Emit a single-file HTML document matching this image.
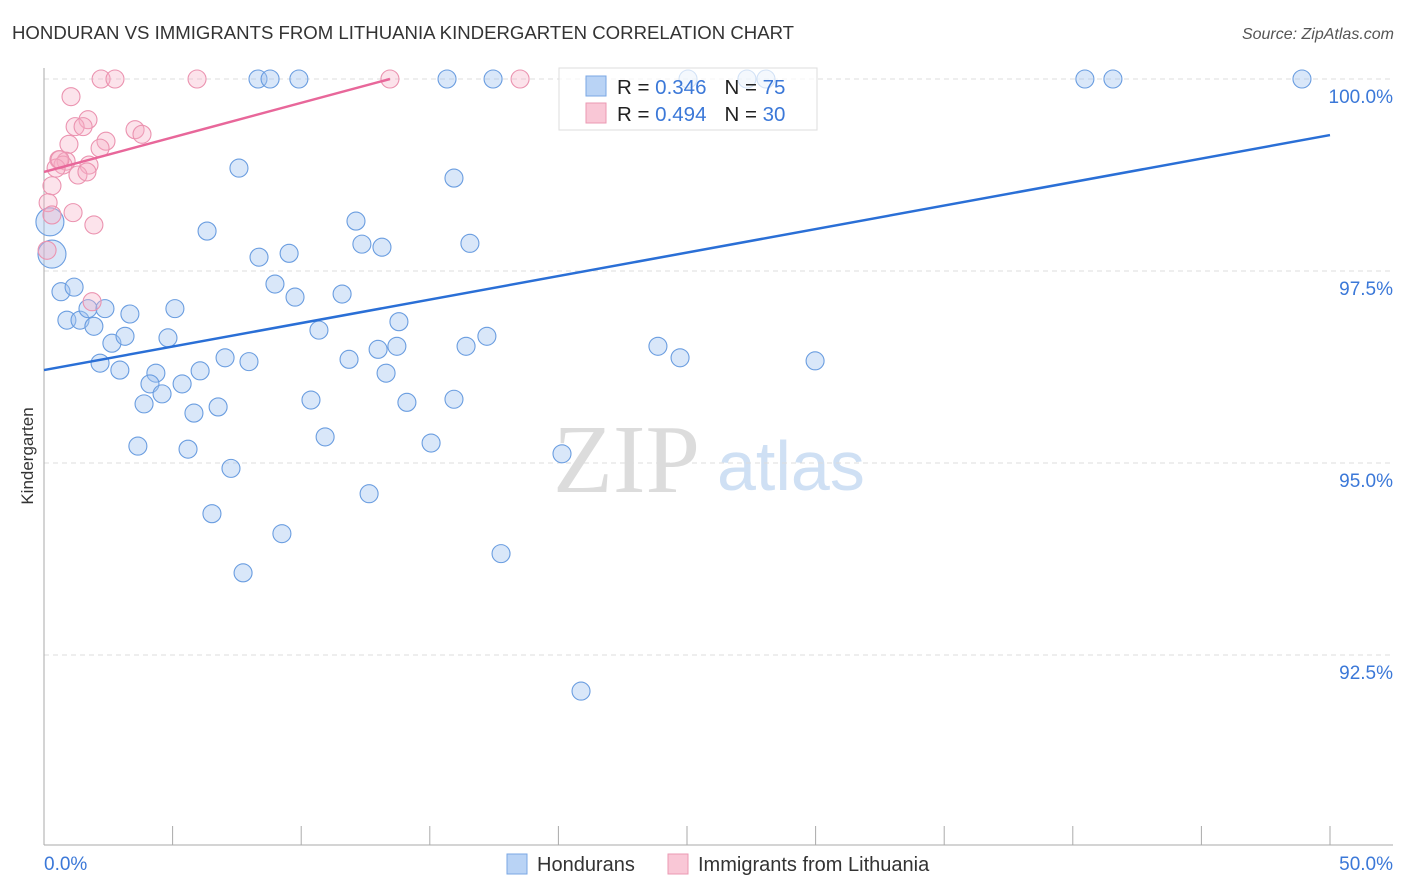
<!DOCTYPE html>
<html><head><meta charset="utf-8"><style>
body{margin:0;background:#fff;font-family:"Liberation Sans",sans-serif}
svg{display:block}
</style></head><body>
<svg id="chart" width="1406" height="892">
<text x="12" y="39" font-size="18.6" fill="#333">HONDURAN VS IMMIGRANTS FROM LITHUANIA KINDERGARTEN CORRELATION CHART</text>
<text x="1394" y="39" font-size="16" fill="#555" font-style="italic" text-anchor="end">Source: ZipAtlas.com</text>
<g>
<text x="553" y="492" font-family="Liberation Serif,serif" font-size="98" fill="#dcdcdc">ZIP</text>
<text x="717" y="490" font-size="70" fill="#cfe0f4">atlas</text>
</g>
<g id="grid"></g>
<g id="axes"></g>
<g id="pts"></g>
<g id="lines"></g>
<text transform="translate(33,456) rotate(-90)" font-size="17" fill="#333" text-anchor="middle">Kindergarten</text>
<text x="44" y="870" font-size="19" fill="#3b78d8">0.0%</text>
<text x="1393" y="870" font-size="19" fill="#3b78d8" text-anchor="end">50.0%</text>
<g>
<rect x="559" y="68" width="258" height="62" fill="rgba(255,255,255,0.7)" stroke="#ddd"/>
<rect x="586" y="76" width="20" height="20" fill="#b9d3f5" stroke="#7aa7e4"/>
<text x="617" y="94" font-size="20.5" fill="#222">R = <tspan fill="#3b78d8">0.346</tspan><tspan dx="18">N = </tspan><tspan fill="#3b78d8">75</tspan></text>
<rect x="586" y="103" width="20" height="20" fill="#f9c7d6" stroke="#eb9ab3"/>
<text x="617" y="121" font-size="20.5" fill="#222">R = <tspan fill="#3b78d8">0.494</tspan><tspan dx="18">N = </tspan><tspan fill="#3b78d8">30</tspan></text>
</g>
<g>
<rect x="507" y="854" width="20" height="20" fill="#b9d3f5" stroke="#7aa7e4"/>
<text x="537" y="871" font-size="20" fill="#333">Hondurans</text>
<rect x="668" y="854" width="20" height="20" fill="#f9c7d6" stroke="#eb9ab3"/>
<text x="698" y="871" font-size="20" fill="#333">Immigrants from Lithuania</text>
</g>
</svg>
<script>
const yTicks=[100,97.5,95,92.5];
const yTickLabels=["100.0%","97.5%","95.0%","92.5%"];
const xTicks=[0,5,10,15,20,25,30,35,40,45,50];
const blueX=[8.32,8.79,9.91,15.67,17.46,25.04,27.33,28.07,40.47,41.56,48.91,7.58,15.94,6.34,12.13,12.36,13.14,16.56,8.36,9.53,0.23,0.31,0.66,1.17,0.89,1.40,1.94,1.71,2.37,3.34,5.09,8.98,9.76,11.59,10.69,13.80,2.64,3.15,4.82,2.18,2.95,4.35,4.12,5.37,6.07,7.04,7.97,11.86,12.99,13.72,13.30,16.41,17.22,23.87,24.73,29.98,3.89,4.59,5.83,6.77,10.38,14.11,15.94,3.65,5.60,10.93,15.05,7.27,20.14,12.64,6.53,9.25,17.77,7.74,20.88];
const blueY=[100,100,100,100,100,100,100,100,100,100,100,98.84,98.71,98.02,98.15,97.85,97.81,97.86,97.68,97.73,98.14,97.72,97.23,97.29,96.86,96.86,96.78,97.01,97.01,96.94,97.01,97.33,97.16,97.20,96.73,96.84,96.56,96.65,96.63,96.30,96.21,96.17,96.03,96.03,96.20,96.37,96.32,96.35,96.48,96.52,96.17,96.52,96.65,96.52,96.37,96.33,95.77,95.90,95.65,95.73,95.82,95.79,95.83,95.22,95.18,95.34,95.26,94.93,95.12,94.60,94.34,94.08,93.82,93.57,92.03];
const blueBig=[20,21];
const pinkX=[2.22,2.76,5.95,13.45,18.51,1.05,1.71,1.21,1.52,2.41,3.54,3.81,0.97,2.18,0.58,0.86,0.74,1.75,1.32,1.67,0.47,0.31,0.16,0.31,1.13,1.94,0.12,1.87,0.62];
const pinkY=[100,100,100,100,100,99.77,99.47,99.38,99.38,99.19,99.34,99.28,99.15,99.10,98.95,98.93,98.88,98.88,98.75,98.79,98.84,98.61,98.39,98.23,98.26,98.10,97.77,97.10,98.95];
const blueTrend=[[0,96.21],[50,99.27]];
const pinkTrend=[[0,98.79],[13.45,100]];
const NS="http://www.w3.org/2000/svg";
const xs=v=>44+v*25.72, ys=v=>79+(100-v)*76.8;
function mk(t,a,p){const e=document.createElementNS(NS,t);for(const k in a)e.setAttribute(k,a[k]);p.appendChild(e);return e;}
const grid=document.getElementById('grid'),axes=document.getElementById('axes'),pts=document.getElementById('pts'),lines=document.getElementById('lines');
yTicks.forEach((t,i)=>{
 const l=mk('line',{x1:44,x2:1393,y1:ys(t),y2:ys(t),stroke:'#ddd','stroke-dasharray':'5,4'},grid);
 
 
 const tx=mk('text',{x:1393,y:ys(t)+24,'font-size':19,fill:'#3b78d8','text-anchor':'end'},axes);
 tx.textContent=yTickLabels[i];
 
 
});
const ya=mk('line',{x1:44,x2:44,y1:68,y2:845,stroke:'#aaa'},axes);


const xa=mk('line',{x1:44,x2:1393,y1:845,y2:845,stroke:'#aaa'},axes);


xTicks.forEach(t=>{
 const l=mk('line',{x1:xs(t),x2:xs(t),y1:826,y2:845,stroke:'#aaa'},axes);
 
 
});
blueX.forEach((x,i)=>{
 const c=mk('circle',{cx:xs(x),cy:ys(blueY[i]),r:blueBig.includes(i)?14:9,fill:'rgba(160,196,240,0.4)',stroke:'#6a9de0','stroke-width':1.1},pts);
 
 
});
pinkX.forEach((x,i)=>{
 const c=mk('circle',{cx:xs(x),cy:ys(pinkY[i]),r:9,fill:'rgba(246,175,198,0.35)',stroke:'#eb93b0','stroke-width':1.1},pts);
 
 
});
const bl=mk('line',{x1:xs(blueTrend[0][0]),y1:ys(blueTrend[0][1]),x2:xs(blueTrend[1][0]),y2:ys(blueTrend[1][1]),stroke:'#2a6fd6','stroke-width':2.5},lines);


const pl=mk('line',{x1:xs(pinkTrend[0][0]),y1:ys(pinkTrend[0][1]),x2:xs(pinkTrend[1][0]),y2:ys(pinkTrend[1][1]),stroke:'#e8679a','stroke-width':2.5},lines);


</script>
</body></html>
